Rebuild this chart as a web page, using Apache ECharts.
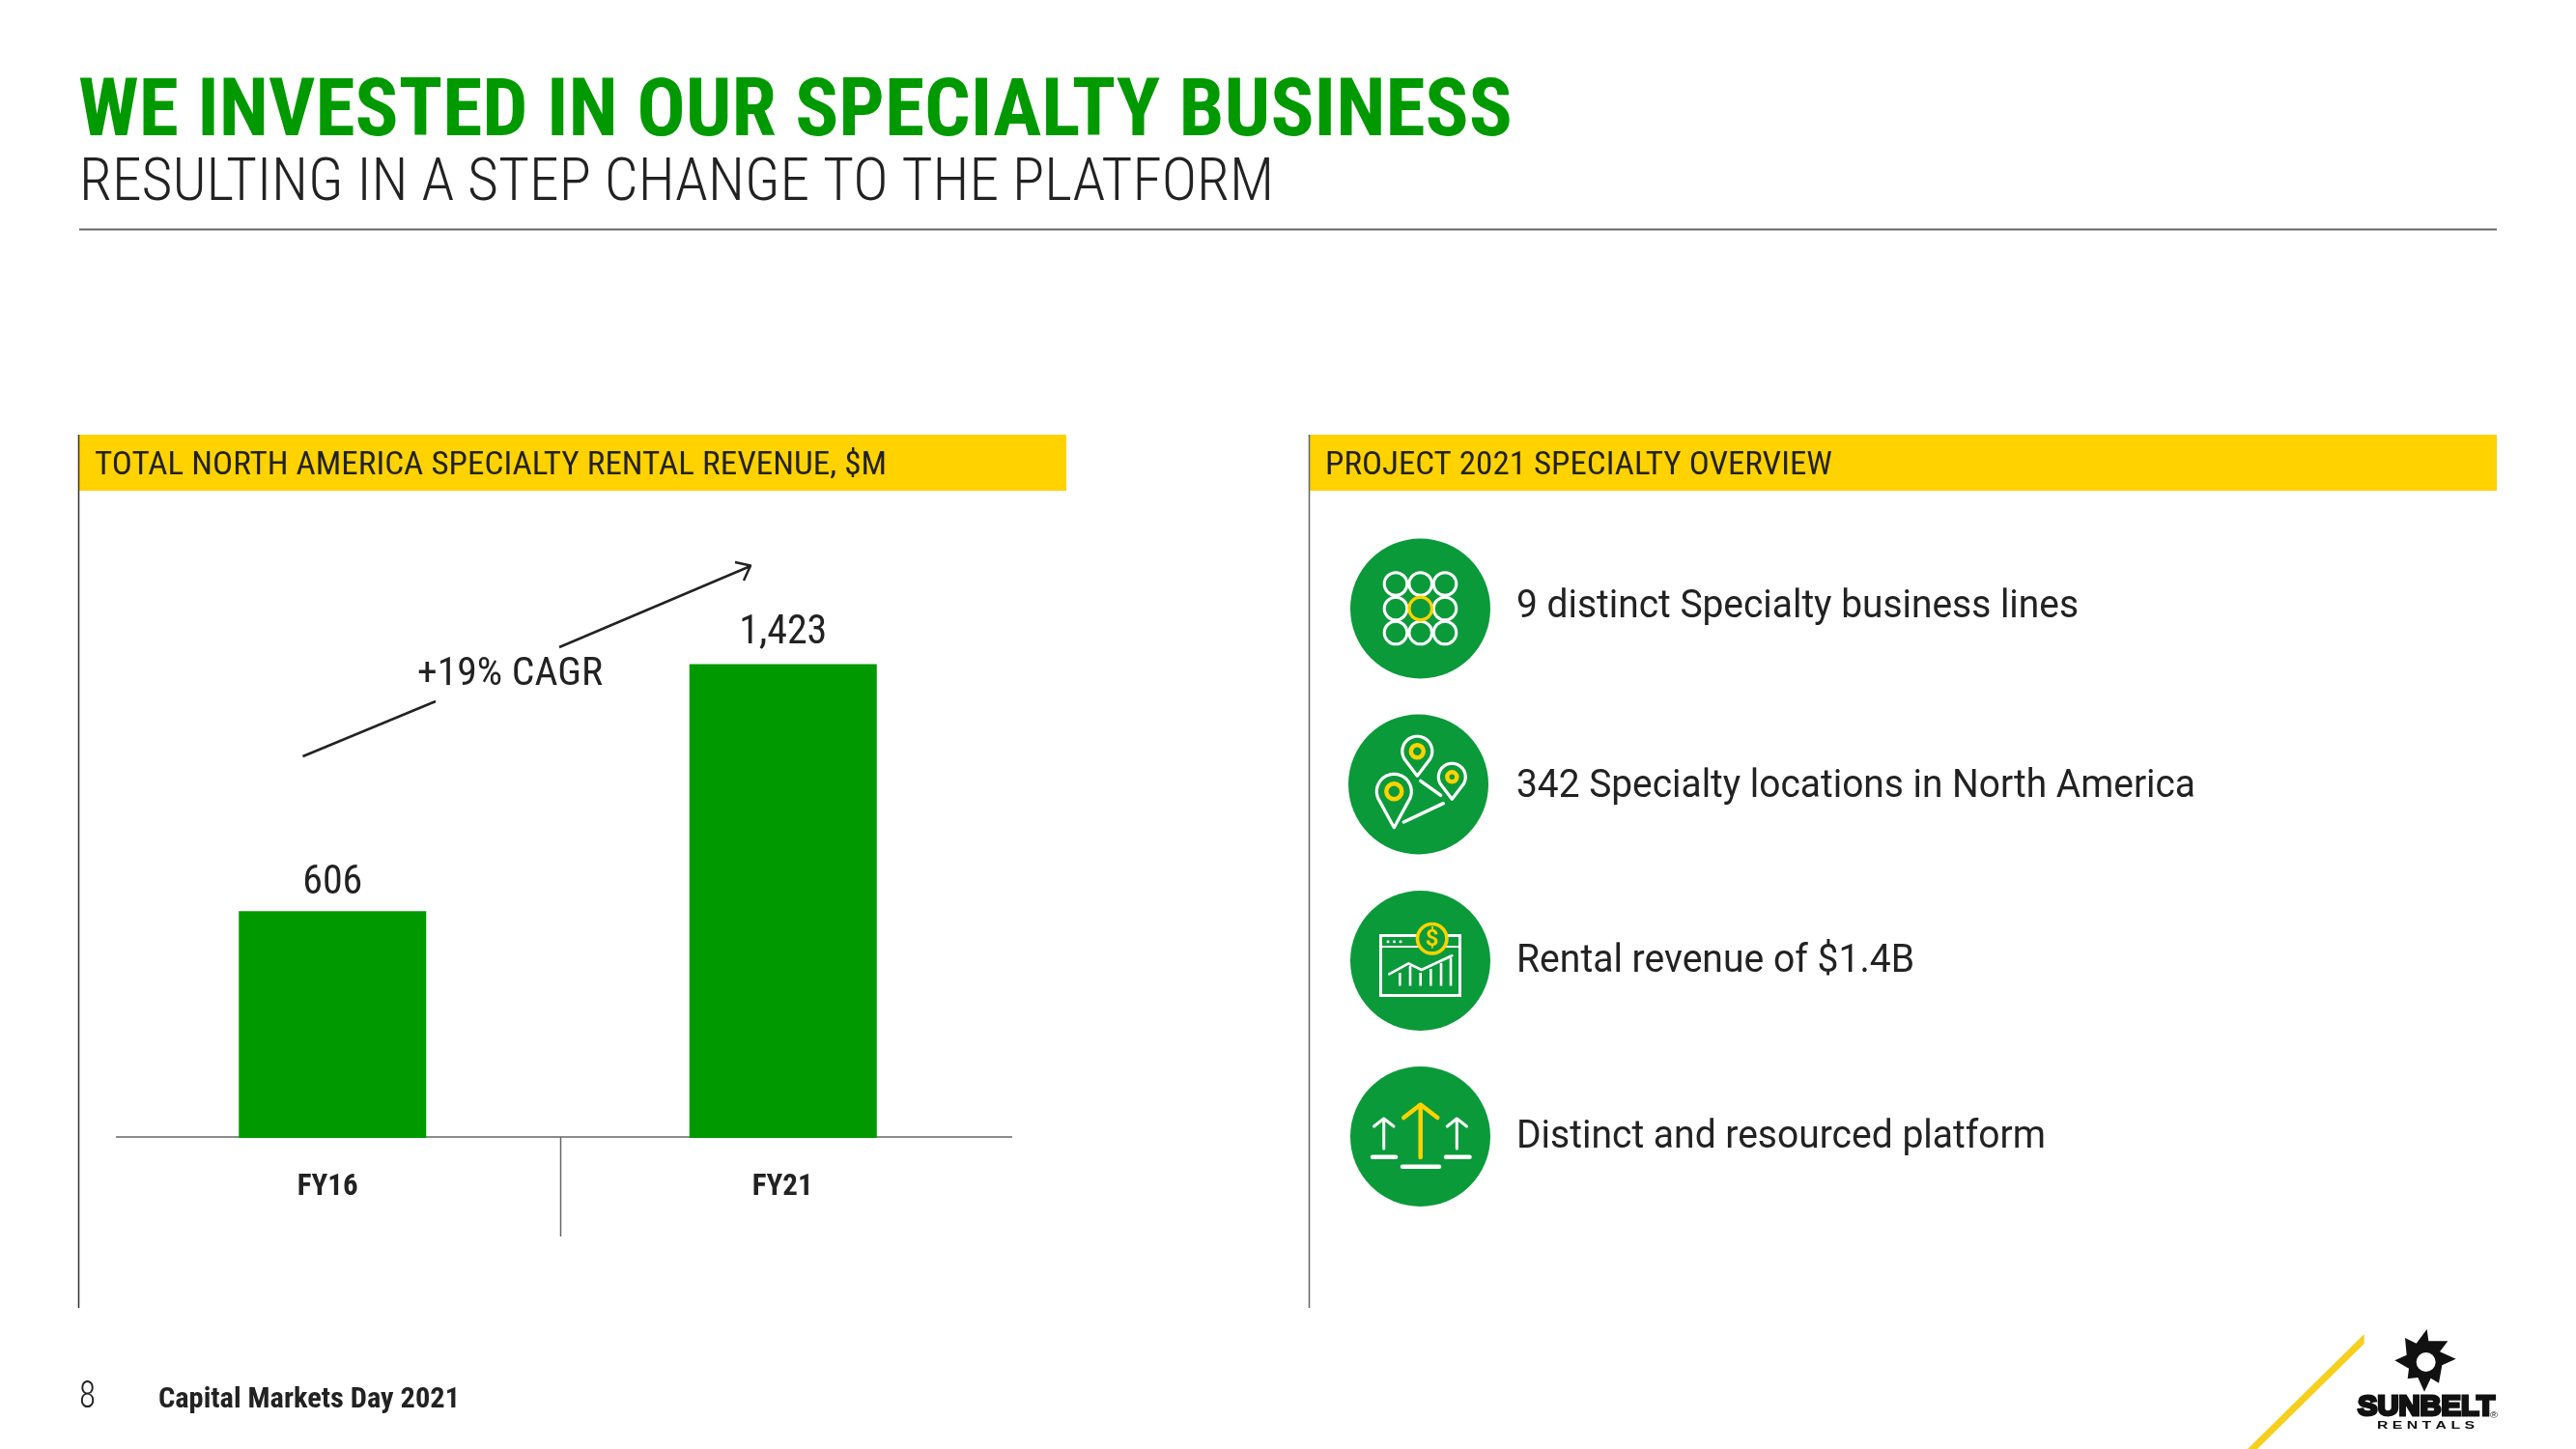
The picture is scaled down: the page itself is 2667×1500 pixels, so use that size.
<!DOCTYPE html>
<html><head><meta charset="utf-8">
<style>html,body{margin:0;padding:0;background:#fff}#c{width:2667px;height:1500px}</style>
<script src="https://cdn.jsdelivr.net/npm/echarts@6/dist/echarts.min.js"></script>
</head><body><div id="c"></div>
<script>
const categories = ['FY16','FY21'];
const revenue = [606,1423];
const valueLabels = ['606','1,423'];
const points = ['9 distinct Specialty business lines','342 Specialty locations in North America','Rental revenue of $1.4B','Distinct and resourced platform'];

const GREEN='#009900',ICON='#0B9A3A',YEL='#FFD200',INK='#222222',RULE='#666666',COND='Roboto Condensed';
const AXIS_MIN=-144,AXIS_MAX=1600;
const mc=document.createElement('canvas').getContext('2d');
function T(text,x,y,size,weight,width,color,fam){
  fam=fam||'Roboto';
  mc.font=weight+' '+size+'px "'+fam+'"';
  const w=mc.measureText(text).width;
  return {type:'text',x:x,y:y,scaleX:width?width/w:1,silent:true,
    style:{text:text,fontSize:size,fontWeight:weight,fontFamily:fam,fill:color||INK,textAlign:'left',textVerticalAlign:'middle'}};
}
const L=(x1,y1,x2,y2,c,w,cap)=>({type:'line',silent:true,shape:{x1,y1,x2,y2},style:{stroke:c,lineWidth:w,lineCap:cap||'butt'}});
const R=(x,y,w,h,c)=>({type:'rect',silent:true,shape:{x,y,width:w,height:h},style:{fill:c}});
const C=(cx,cy,r,fill,stroke,lw)=>({type:'circle',silent:true,shape:{cx,cy,r},style:{fill:fill||'none',stroke:stroke||'none',lineWidth:lw||0}});
const P=(pts,fill,stroke,lw,cap)=>({type:'polyline',silent:true,shape:{points:pts},style:{fill:fill||'none',stroke:stroke||'none',lineWidth:lw||0,lineCap:cap||'round',lineJoin:'round'}});
const PG=(pts,fill)=>({type:'polygon',silent:true,shape:{points:pts},style:{fill:fill}});
function pin(cx,cy,r,tip,inner){
  const pts=[[cx,tip]];
  for(let a=145;a<=395;a+=10){const t=a*Math.PI/180;pts.push([cx+r*Math.cos(t),cy+r*Math.sin(t)]);}
  return [
   {type:'polygon',silent:true,shape:{points:pts},style:{fill:'none',stroke:'#fff',lineWidth:3.2,lineJoin:'round'}},
   C(cx,cy,inner,'none',YEL,4.5)];
}
const g=[];
// header
g.push(T('WE INVESTED IN OUR SPECIALTY BUSINESS',81,119,84,'bold',1485,GREEN,COND));
g.push(T('RESULTING IN A STEP CHANGE TO THE PLATFORM',82,191,62,'300',1237,INK,COND));
g.push(L(82,237.5,2585,237.5,RULE,2));
// panels
g.push(R(82,450,1022,58,YEL),R(1356,450,1229,58,YEL));
g.push(L(81.5,450,81.5,1354,'#333',1.5),L(1355.5,450,1355.5,1354,RULE,1.5));
g.push(T('TOTAL NORTH AMERICA SPECIALTY RENTAL REVENUE, $M',98,482,34,'normal',820,INK,COND));
g.push(T('PROJECT 2021 SPECIALTY OVERVIEW',1372,482,34,'normal',525,INK,COND));
// axis line and divider
g.push(L(120,1177,1048,1177,RULE,1.5),L(580.5,1177,580.5,1280,RULE,1.5));
// CAGR
g.push(T('+19% CAGR',432,699,41,'normal',192,INK,COND));
g.push(L(313.5,783,451,726,INK,2.5),L(579,670,777,586,INK,2.5));
g.push(P([[761,582],[777,585.5],[770,601]],null,INK,2.5,'butt'));
// icons
[[1470.5,630],[1468.5,812],[1470.5,994.5],[1470.5,1176.5]].forEach(c=>g.push(C(c[0],c[1],72.5,ICON)));
[1445,1470.7,1496].forEach(x=>[604.5,630,655].forEach(y=>{ if(!(x===1470.7&&y===630)) g.push(C(x,y,11.8,'none','#fff',3)); }));
g.push(C(1470.7,630,11.8,'none',YEL,3.2));
g.push(...pin(1467.3,777.7,15.5,803.3,6.5),...pin(1503.3,804.3,14,827.3,5),...pin(1443.3,819.3,18,856.7,8));
g.push(L(1470.7,808.3,1491.7,823.3,'#fff',3.5,'round'),L(1453.3,851,1494.3,831.7,'#fff',3.5,'round'));
// window icon
g.push({type:'rect',silent:true,shape:{x:1429.5,y:968.5,width:82,height:62},style:{fill:'none',stroke:'#fff',lineWidth:3}});
g.push(L(1429,980,1512,980,'#fff',2));
[1437,1443.5,1450].forEach(x=>g.push(C(x,974.7,1.5,'#fff')));
[[1438,1020.5],[1449.3,1007],[1460,1000],[1470.7,1007],[1481.3,1003],[1492,997],[1502,991.5]].forEach(p=>g.push(L(p[0],1020.5,p[0],p[1],'#fff',2.6)));
g.push(P([[1438.3,1008.3],[1458.3,997.3],[1471.7,1004],[1503.3,989.3]],null,'#fff',2.6));
g.push(C(1482.7,971.7,15.2,ICON,YEL,3.6));
g.push({type:'text',x:1482.7,y:973,silent:true,style:{text:'$',fontSize:24,fontWeight:'bold',fontFamily:'Roboto',fill:YEL,textAlign:'center',textVerticalAlign:'middle'}});
// arrows icon
g.push(L(1470.7,1146,1470.7,1198,YEL,4.5,'round'),P([[1453.3,1157],[1470.7,1143.5],[1488.3,1157]],null,YEL,4.5));
[[1432.7,1422.5,1443],[1508.3,1498.3,1518.5]].forEach(a=>{
  g.push(L(a[0],1160,a[0],1189,'#fff',3,'round'),P([[a[1],1166],[a[0],1158],[a[2],1166]],null,'#fff',3));
});
g.push(L(1421,1197.7,1445,1197.7,'#fff',4.5,'round'),L(1497,1197.7,1521.5,1197.7,'#fff',4.5,'round'),L(1452,1207.7,1490,1207.7,'#fff',4.5,'round'));
// bullet text
[[629,582],[815,703],[996,412],[1178,548]].forEach((a,i)=>g.push(T(points[i],1570,a[0],40,'normal',a[1])));
// footer
g.push(T('8',82,1447,38,'300',17,INK,COND));
g.push(T('Capital Markets Day 2021',164,1449,30,'bold',312,INK,COND));
g.push(PG([[2447.7,1381],[2447.7,1391],[2337,1500],[2327,1500]],'#F7CF1D'));
// logo
const saw=[[128,18],[133,55],[193,55],[168,88],[218,110],[175,130],[165,185],[140,170],[120,212],[100,168],[68,172],[72,140],[28,115],[65,98],[60,45],[95,62]];
g.push(PG(saw.map(p=>[2470+p[0]/3,1370+p[1]/3]),'#111'),C(2470+125/3,1370+120/3,10,'#fff'));
const sb=T('SUNBELT',2441,1457,30,'bold',142,'#111','Liberation Sans');
sb.style.stroke='#111';sb.style.lineWidth=3;g.push(sb);
g.push(T('R E N T A L S',2461,1476.5,10,'bold',101,'#111','Liberation Sans'));
g.push(T('®',2578,1466,9,'normal',8,'#111','Liberation Sans'));

const chart=echarts.init(document.getElementById('c'),null,{renderer:'canvas'});
chart.setOption({
  animation:false,
  grid:{left:111,width:933,top:632,bottom:322},
  xAxis:{type:'category',data:[{value:categories[0],textStyle:{padding:[0,10,0,0]}},{value:categories[1],textStyle:{padding:[0,1,0,0]}}],
    axisLine:{show:false},axisTick:{show:false},
    axisLabel:{margin:36,fontSize:31,fontWeight:'bold',fontFamily:COND,color:INK}},
  yAxis:{type:'value',min:AXIS_MIN,max:AXIS_MAX,show:false,splitLine:{show:false}},
  series:[{type:'custom',data:revenue.map((v,i)=>[i,v]),encode:{x:0,y:1},
    renderItem:(params,api)=>{
      const i=api.value(0),v=api.value(1);
      const top=api.coord([i,v]),base=api.coord([i,AXIS_MIN]),w=194;
      return {type:'rect',shape:{x:top[0]-w/2,y:top[1],width:w,height:base[1]-top[1]},style:{fill:GREEN},
        textContent:{style:{text:valueLabels[i],fontSize:42,fontFamily:COND,fill:INK}},
        textConfig:{position:'top',distance:i===0?8:11}};
    }}],
  graphic:g
});
</script></body></html>
